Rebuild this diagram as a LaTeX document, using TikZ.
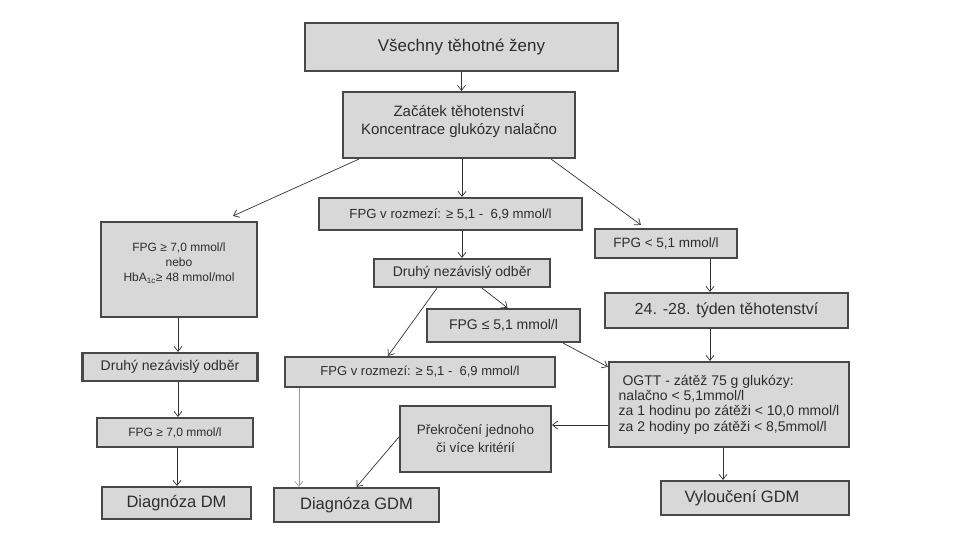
\documentclass[tikz,border=0pt]{standalone}
\usepackage{fontspec}
\setmainfont{Liberation Sans}
\usetikzlibrary{arrows.meta}
\definecolor{boxfill}{RGB}{216,216,216}
\definecolor{boxline}{RGB}{72,72,72}
\definecolor{txt}{RGB}{45,45,45}
\newcommand{\fs}[2][6/5]{\fontsize{#2pt}{\dimexpr #2pt*#1\relax}\selectfont}

\begin{document}
\begin{tikzpicture}[x=1pt,y=-1pt,
      box/.style={draw=boxline,fill=boxfill,line width=2.2pt,inner sep=0pt,
        text=txt,align=center},
      arr/.style={draw=black!80,line width=0.7pt,
        -{Straight Barb[length=5pt,width=8pt]}},
      ]
      \useasboundingbox[fill=white] (0,0) rectangle (960,540);
      % top
      \node[box,minimum width=313pt,minimum height=48pt,font=\fs{17}] (vsechny) at (461.5,47) {Všechny těhotné ženy};
      \node[box,minimum width=232pt,minimum height=66pt,font=\fs{15}] (zacatek) at (459,125) {Začátek těhotenství\\Koncentrace glukózy nalačno\\[-8pt]\mbox{}};
      % middle column
      \node[box,minimum width=263pt,minimum height=32pt,font=\fs{13.2}] (rozmezi) at (450.5,214) {FPG v rozmezí: ≥ 5,1 -\ \ 6,9 mmol/l};
      \node[box,minimum width=176pt,minimum height=28pt,font=\fs{14}] (druhy) at (462,273) {Druhý nezávislý odběr};
      \node[box,minimum width=153pt,minimum height=33pt,font=\fs{14}] (mensi) at (503.5,325.5) {FPG ≤ 5,1 mmol/l};
      \node[box,minimum width=270pt,minimum height=30pt,font=\fs{13}] (rozmezib) at (420,372) {FPG v rozmezí: ≥ 5,1 -\ \ 6,9 mmol/l};
      \node[box,minimum width=151pt,minimum height=66pt,font={\fs[4/3]{13.5}}] (prekroceni) at (475.5,439) {Překročení jednoho\\či více kritérií};
      \node[box,minimum width=165pt,minimum height=34pt,font=\fs{16.5}] (gdm) at (356.5,505) {Diagnóza GDM};
      % left column
      \node[box,minimum width=156pt,minimum height=95pt,font={\fs[5/4]{12}}] (hodnoty) at (179,269.5) {FPG ≥ 7,0 mmol/l\\nebo\\HbA\textsubscript{1c}≥ 48 mmol/mol\\\mbox{}};
      \node[box,minimum width=175pt,minimum height=28pt,font=\fs{14}] (druhyL) at (170,367) {Druhý nezávislý odběr};
      \node[box,minimum width=156pt,minimum height=29pt,font=\fs{12}] (vetsi) at (175,432.5) {FPG ≥ 7,0 mmol/l};
      \node[box,minimum width=149pt,minimum height=32pt,font=\fs{16.5}] (dm) at (176.5,503) {Diagnóza DM};
      % right column
      \node[box,minimum width=142pt,minimum height=29pt,font=\fs{13.5}] (mensiR) at (666,243.5) {FPG < 5,1 mmol/l};
      \node[box,minimum width=243pt,minimum height=35pt,font=\fs{16}] (tyden) at (726.5,310.5) {24. -28. týden těhotenství};
      \node[box,minimum width=240pt,minimum height=85pt,font={\fs[11/10]{14}},align=left] (ogtt) at (729,404.5) {\ OGTT - zátěž 75 g glukózy:\\nalačno < 5,1mmol/l\\za 1 hodinu po zátěži < 10,0 mmol/l\\za 2 hodiny po zátěži < 8,5mmol/l};
      \node[box,minimum width=188pt,minimum height=34pt,font=\fs{16.5}] (vylouceni) at (755,498) {Vyloučení GDM\hspace*{26pt}};

      \draw[arr] (vsechny.south) -- (vsechny.south |- zacatek.north);
      \draw[arr] ([xshift=17pt]zacatek.south west) -- ([xshift=-25pt,yshift=5pt]hodnoty.north east);
      \draw[arr] ([xshift=3pt]zacatek.south) -- ([xshift=3pt]zacatek.south |- rozmezi.north);
      \draw[arr] ([xshift=-25pt]zacatek.south east) -- ([xshift=47pt,yshift=3pt]mensiR.north west);
      \draw[arr] (druhy.north |- rozmezi.south) -- (druhy.north);
      \draw[arr] ([xshift=20pt]druhy.south) -- ([xshift=4pt]mensi.north);
      \draw[arr] ([xshift=-25pt]druhy.south) -- ([xshift=-32pt]rozmezib.north);
      \draw[arr] ([xshift=-18pt]mensi.south east) -- ([yshift=-6pt]ogtt.north west);
      \draw[arr,draw=black!40] ([xshift=15pt]rozmezib.south west) -- ([xshift=15pt]rozmezib.south west |- gdm.north);
      \draw[arr] ([yshift=2pt]prekroceni.west) -- (gdm.north);
      \draw[arr] ([yshift=-20.5pt]ogtt.west) -- ([yshift=-20.5pt]ogtt.west -| prekroceni.east);
      \draw[arr] ([xshift=-6pt]ogtt.south) -- ([xshift=-6pt]ogtt.south |- vylouceni.north);
      \draw[arr] ([xshift=44pt]mensiR.south) -- ([xshift=44pt]mensiR.south |- tyden.north);
      \draw[arr] ([xshift=-16.5pt]tyden.south) -- ([xshift=-16.5pt]tyden.south |- ogtt.north);
      \draw[arr] ([xshift=-1pt]hodnoty.south) -- ([xshift=-1pt]hodnoty.south |- druhyL.north);
      \draw[arr] ([xshift=8pt]druhyL.south) -- ([xshift=8pt]druhyL.south |- vetsi.north);
      \draw[arr] ([xshift=2pt]vetsi.south) -- ([xshift=2pt]vetsi.south |- dm.north);
    \end{tikzpicture}
\end{document}
